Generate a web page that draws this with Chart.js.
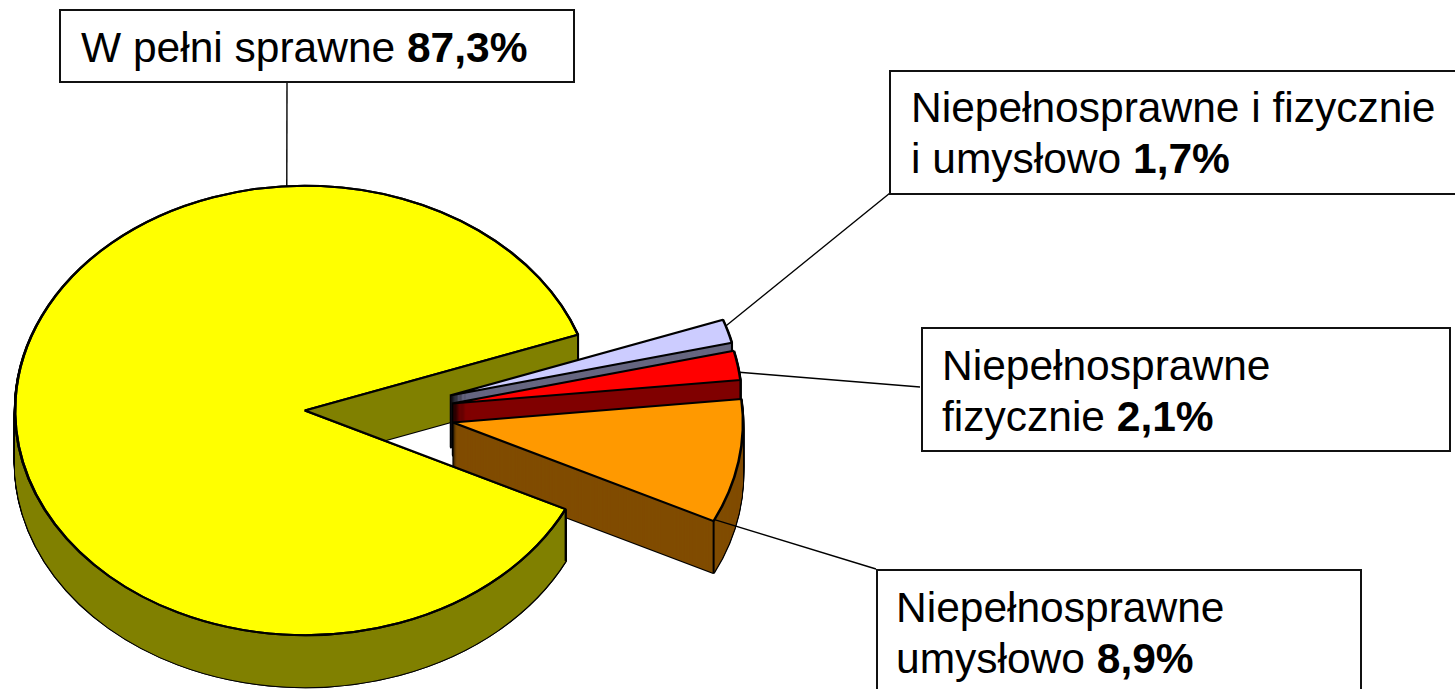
<!DOCTYPE html>
<html lang="pl">
<head>
<meta charset="utf-8">
<title>Sprawność</title>
<script src="https://cdn.jsdelivr.net/npm/chart.js@4/dist/chart.umd.js"></script>
<style>
  html, body { margin: 0; padding: 0; background: #fff; overflow: hidden; }
  #wrap { position: relative; width: 1455px; height: 689px; overflow: hidden; }
  canvas { position: absolute; left: 0; top: 0; }
  .box {
    position: absolute; box-sizing: border-box; background: #fff; border: 2px solid #111;
    font: 42.5px/51px "Liberation Sans", Arial, sans-serif; color: #000; white-space: nowrap;
  }
  .box b { font-weight: bold; }
</style>
</head>
<body>
<div id="wrap">
  <canvas id="myChart" width="1455" height="689"></canvas>
</div>
<script>
// slices, clockwise from the small blue one
const categories = ['Niepełnosprawne i fizycznie i umysłowo', 'Niepełnosprawne fizycznie', 'Niepełnosprawne umysłowo', 'W pełni sprawne'];
const values = [1.7, 2.1, 8.9, 87.3];
const topColors = ['#CCCCFF', '#FF0000', '#FF9900', '#FFFF00'];
const wallColors = ['#666680', '#800000', '#804C00', '#808000'];

// text of the callouts, the value goes after the last line
const labelLines = [
  ['Niepełnosprawne i fizycznie', 'i umysłowo'],
  ['Niepełnosprawne', 'fizycznie'],
  ['Niepełnosprawne', 'umysłowo'],
  ['W pełni sprawne']
];

// how the picture is laid out
const squash = 0.775;
const wallDepth = 52;
const pieRadius = 290;
const explode = [[145, -15], [147, -7], [148, 12], [0, 0]];
const boxes = [
  { left: 889, top: 70, width: 580, height: 125, padLeft: 20, padTop: 10 },
  { left: 921, top: 327, width: 530, height: 125, padLeft: 19, padTop: 11 },
  { left: 876, top: 569, width: 486, height: 140, padLeft: 18, padTop: 11 },
  { left: 59, top: 9, width: 516, height: 74, padLeft: 20, padTop: 11 }
];
const leaderFrom = [[890, 193], [920, 387], [876, 569], [287, 83]];
const leaderAngle = [-18, -8, 25.6, -93.6];

boxes.forEach((b, i) => {
  const div = document.createElement('div');
  div.className = 'box';
  div.style.cssText = `left:${b.left}px;top:${b.top}px;width:${b.width}px;height:${b.height}px;padding:${b.padTop}px 0 0 ${b.padLeft}px`;
  const lines = labelLines[i].slice();
  const pct = values[i].toFixed(1).replace('.', ',') + '%';
  lines[lines.length - 1] += ' <b>' + pct + '</b>';
  div.innerHTML = lines.join('<br>');
  document.getElementById('wrap').appendChild(div);
});

// draws one arc through its own element, only the colours are swapped
function drawArc(ctx, arc, i, depth, fill, border, width) {
  const orig = arc.options;
  arc.options = Object.assign({}, orig, { backgroundColor: fill, borderColor: border, borderWidth: width });
  ctx.save();
  ctx.translate(arc.x + explode[i][0], arc.y + explode[i][1] + depth);
  ctx.scale(1, squash);
  ctx.translate(-arc.x, -arc.y);
  arc.draw(ctx);
  ctx.restore();
  arc.options = orig;
}

function rimPoint(arc, i, angle) {
  return [
    arc.x + explode[i][0] + Math.cos(angle) * arc.outerRadius,
    arc.y + explode[i][1] + Math.sin(angle) * arc.outerRadius * squash
  ];
}

function drawWalls(ctx, arc, i, corners) {
  for (let d = wallDepth; d > 0; d -= 1) drawArc(ctx, arc, i, d, '#000', '#000', 2.6);
  for (let d = wallDepth; d > 0; d -= 1) drawArc(ctx, arc, i, d, wallColors[i], wallColors[i], 0);
  ctx.strokeStyle = '#000';
  ctx.lineWidth = 2;
  corners.forEach(a => {
    const p = rimPoint(arc, i, a);
    ctx.beginPath();
    ctx.moveTo(p[0], p[1]);
    ctx.lineTo(p[0], p[1] + wallDepth);
    ctx.stroke();
  });
}

const pie3d = {
  id: 'pie3d',
  beforeDatasetsDraw(chart) {
    const ctx = chart.ctx;
    const arcs = chart.getDatasetMeta(0).data;
    const big = arcs.length - 1;
    const a = arcs[big];

    // big slice first, its far wall stays behind the pulled out slices
    drawWalls(ctx, a, big, [a.startAngle, a.endAngle]);
    arcs.forEach((arc, i) => {
      if (i === big) return;
      drawWalls(ctx, arc, i, [arc.endAngle]);
      drawArc(ctx, arc, i, 0, topColors[i], '#000', 2.6);
    });

    // then the front of the big slice again, it covers the orange wall
    ctx.save();
    ctx.beginPath();
    ctx.moveTo(a.x, a.y);
    ctx.ellipse(a.x, a.y, 3000, 3000 * squash, 0, a.startAngle, a.endAngle);
    ctx.closePath();
    ctx.clip();
    drawWalls(ctx, a, big, [a.startAngle]);
    drawArc(ctx, a, big, 0, topColors[big], '#000', 2.6);
    ctx.restore();
    drawArc(ctx, a, big, 0, 'rgba(0,0,0,0)', '#000', 2.6);

    // leader lines
    ctx.strokeStyle = '#000';
    ctx.lineWidth = 1.4;
    arcs.forEach((arc, i) => {
      const p = rimPoint(arc, i, leaderAngle[i] * Math.PI / 180);
      ctx.beginPath();
      ctx.moveTo(leaderFrom[i][0], leaderFrom[i][1]);
      ctx.lineTo(p[0], p[1]);
      ctx.stroke();
    });
    return false;
  }
};

new Chart(document.getElementById('myChart'), {
  type: 'pie',
  data: {
    labels: categories,
    datasets: [{
      data: values,
      backgroundColor: topColors,
      borderColor: '#000',
      borderWidth: 2,
      radius: pieRadius
    }]
  },
  options: {
    responsive: false,
    animation: false,
    rotation: 70.3,
    layout: { padding: { top: 132, right: 845 } },
    plugins: { legend: { display: false }, tooltip: { enabled: false } }
  },
  plugins: [pie3d]
});
</script>
</body>
</html>
